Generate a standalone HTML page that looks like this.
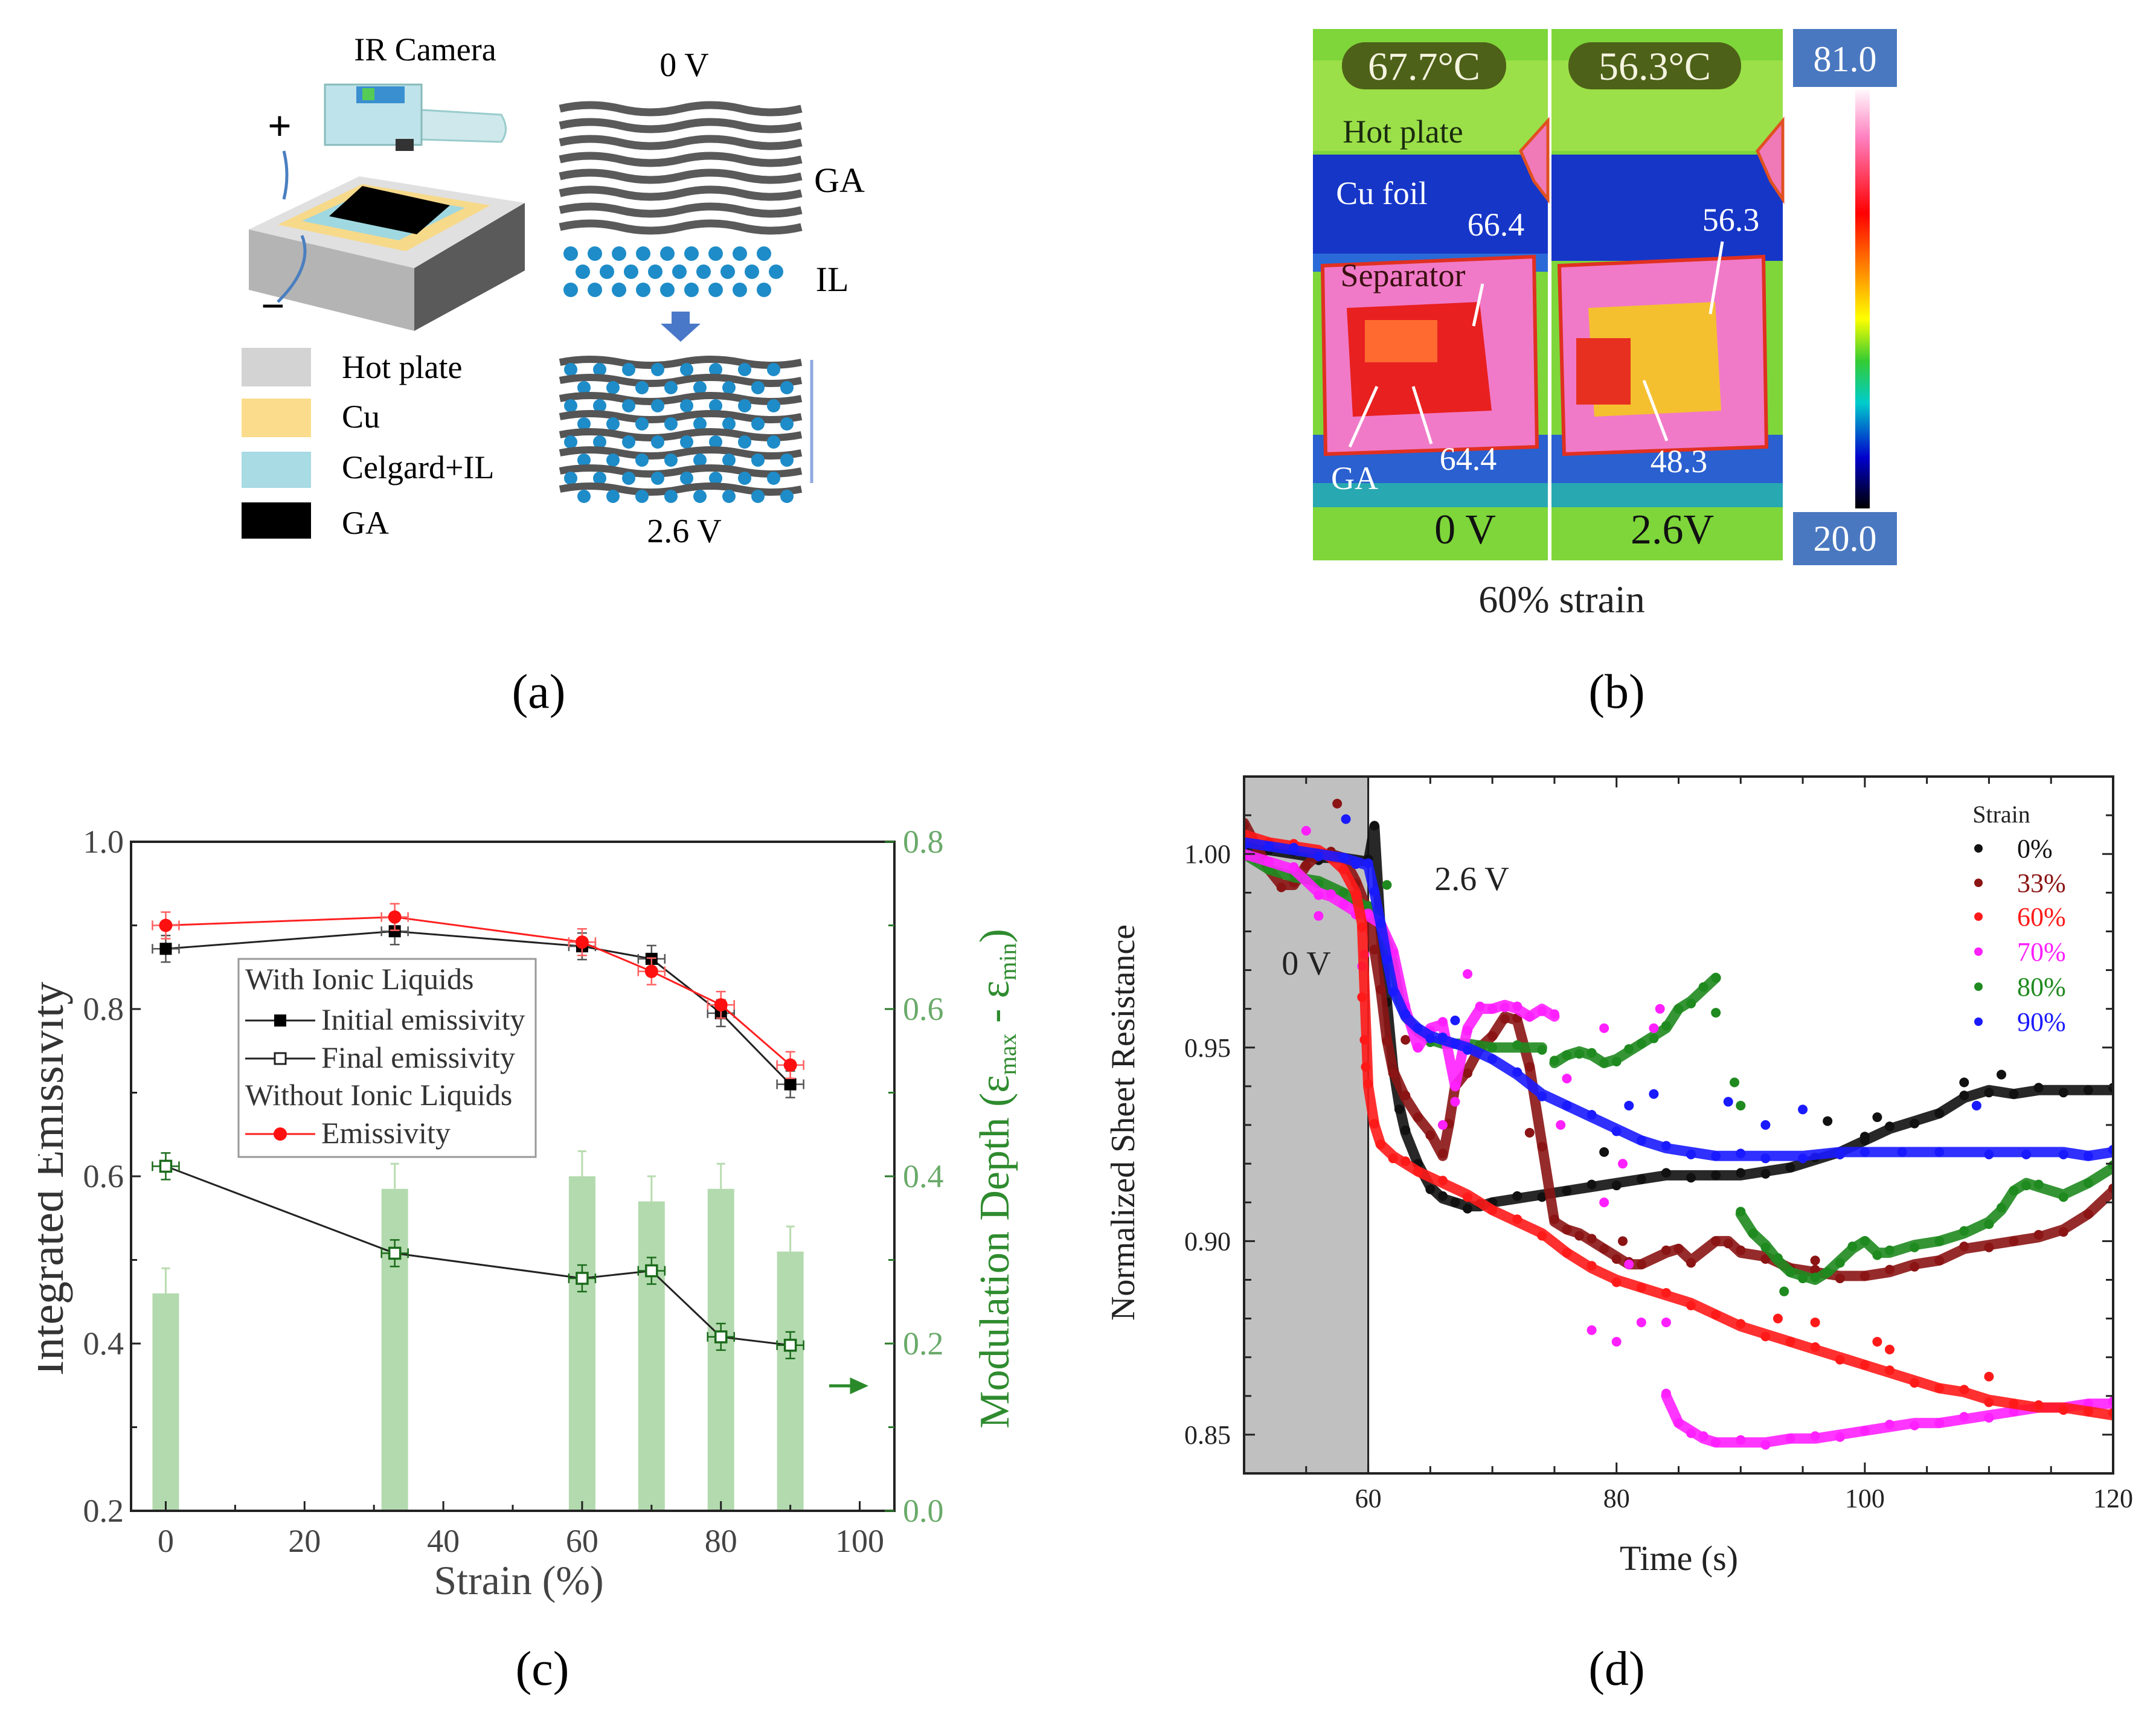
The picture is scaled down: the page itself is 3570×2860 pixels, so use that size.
<!DOCTYPE html>
<html><head><meta charset="utf-8">
<style>
html,body{margin:0;padding:0;background:#fff;}
svg{display:block;}
text{font-family:"Liberation Serif",serif;}
</style></head>
<body>
<svg id="fig" width="3570" height="2860" viewBox="0 0 3570 2860" xmlns="http://www.w3.org/2000/svg">
<defs>
<linearGradient id="cbar" x1="0" y1="0" x2="0" y2="1">
<stop offset="0" stop-color="#ffffff"/><stop offset="0.12" stop-color="#ff80c0"/><stop offset="0.3" stop-color="#ff0000"/><stop offset="0.45" stop-color="#ff9900"/><stop offset="0.55" stop-color="#ffff00"/><stop offset="0.65" stop-color="#33cc33"/><stop offset="0.75" stop-color="#00cccc"/><stop offset="0.88" stop-color="#0000cc"/><stop offset="1" stop-color="#000000"/>
</linearGradient>
<clipPath id="clipYL"><rect x="63" y="1300" width="200" height="1300"/></clipPath>
<clipPath id="clipD"><rect x="2060" y="1286" width="1439" height="1154"/></clipPath>
</defs>

<!-- ===== Panel (a) ===== -->
<g>
  <text x="704" y="100" font-size="54" text-anchor="middle">IR Camera</text>
  <g>
    <path d="M665 180 L830 190 Q845 215 830 235 L665 230 Z" fill="#cfe8ec" stroke="#9cc" stroke-width="3"/>
    <rect x="538" y="140" width="160" height="100" fill="#bfe3ea" stroke="#8bb" stroke-width="3"/>
    <rect x="590" y="143" width="80" height="28" fill="#3a8fd0"/>
    <rect x="600" y="146" width="20" height="20" fill="#5c5"/>
    <rect x="655" y="230" width="30" height="20" fill="#333"/>
  </g>
  <text x="463" y="232" font-size="70" font-family="Liberation Sans" font-weight="bold" text-anchor="middle">+</text>
  <text x="452" y="530" font-size="70" font-family="Liberation Sans" font-weight="bold" text-anchor="middle">−</text>
  <g>
    <polygon points="412,380 595,292 869,336 686,444" fill="#e0e0e0"/>
    <polygon points="412,380 686,444 686,548 412,480" fill="#b4b4b4"/>
    <polygon points="686,444 869,336 869,448 686,548" fill="#5a5a5a"/>
    <polygon points="460,372 600,305 812,340 672,416" fill="#f7d98a"/>
    <polygon points="500,366 610,316 770,344 660,398" fill="#9fd8e0"/>
    <polygon points="545,358 600,308 745,340 690,388" fill="#000"/>
    <path d="M470 330 Q480 290 470 250" stroke="#4a7fc0" stroke-width="5" fill="none"/>
    <path d="M500 390 Q520 440 460 500" stroke="#4a7fc0" stroke-width="5" fill="none"/>
  </g>
  <g>
    <rect x="400" y="576" width="115" height="64" fill="#d3d3d3"/>
    <rect x="400" y="660" width="115" height="64" fill="#fbdc8c"/>
    <rect x="400" y="748" width="115" height="60" fill="#a8dbe4"/>
    <rect x="400" y="832" width="115" height="60" fill="#000"/>
    <text x="566" y="626" font-size="54">Hot plate</text>
    <text x="566" y="708" font-size="54">Cu</text>
    <text x="566" y="792" font-size="54">Celgard+IL</text>
    <text x="566" y="884" font-size="54">GA</text>
  </g>
  <text x="1133" y="126" font-size="56" text-anchor="middle">0 V</text>
  <g id="gaLayers"></g>
  <text x="1390" y="318" font-size="58" text-anchor="middle">GA</text>
  <g id="ilDots"></g>
  <text x="1378" y="482" font-size="58" text-anchor="middle">IL</text>
  <polygon points="1112,516 1142,516 1142,536 1160,536 1127,566 1094,536 1112,536" fill="#4a78c8"/>
  <g id="mixLayers"></g>
  <line x1="1344" y1="596" x2="1344" y2="800" stroke="#8fa8e0" stroke-width="5"/>
  <text x="1133" y="898" font-size="56" text-anchor="middle">2.6 V</text>
  <text x="892" y="1172" font-size="80" text-anchor="middle">(a)</text>
</g>

<!-- ===== Panel (b) ===== -->
<g>
  <g>
    <rect x="2174" y="48" width="389" height="880" fill="#7ed63a"/>
    <rect x="2174" y="100" width="389" height="150" fill="#9be048"/>
    <rect x="2174" y="256" width="389" height="176" fill="#1636c8"/>
    <rect x="2174" y="420" width="389" height="30" fill="#2a6ad8"/>
    <rect x="2174" y="720" width="389" height="120" fill="#2a60d0"/>
    <rect x="2174" y="800" width="389" height="40" fill="#28a8b0"/>
    <polygon points="2518,250 2563,200 2563,330 2540,300" fill="#f07ab8" stroke="#e05020" stroke-width="5"/>
    <polygon points="2190,440 2540,425 2545,740 2195,752" fill="#f07ac8" stroke="#e03020" stroke-width="6"/>
    <polygon points="2230,510 2450,500 2470,680 2240,690" fill="#e82020"/>
    <rect x="2260" y="530" width="120" height="70" fill="#ff6a30"/>
    <rect x="2222" y="70" width="272" height="78" rx="38" fill="#4e6118"/>
  </g>
  <g>
    <rect x="2569" y="48" width="383" height="880" fill="#7ed63a"/>
    <rect x="2569" y="100" width="383" height="150" fill="#9be048"/>
    <rect x="2569" y="256" width="383" height="176" fill="#1636c8"/>
    <rect x="2569" y="720" width="383" height="120" fill="#2a60d0"/>
    <rect x="2569" y="800" width="383" height="40" fill="#28a8b0"/>
    <polygon points="2910,250 2952,200 2952,330 2932,300" fill="#f07ab8" stroke="#e05020" stroke-width="5"/>
    <polygon points="2582,440 2920,425 2925,740 2590,752" fill="#f07ac8" stroke="#e03020" stroke-width="6"/>
    <polygon points="2630,510 2840,500 2850,680 2640,690" fill="#f5c030"/>
    <rect x="2610" y="560" width="90" height="110" fill="#e83020"/>
    <rect x="2597" y="70" width="286" height="78" rx="38" fill="#4e6118"/>
  </g>
  <text x="2358" y="132" font-size="66" font-family="Liberation Sans" fill="#f4f4e0" text-anchor="middle">67.7°C</text>
  <text x="2740" y="132" font-size="66" font-family="Liberation Sans" fill="#f4f4e0" text-anchor="middle">56.3°C</text>
  <text x="2323" y="236" font-size="54" fill="#1a2a10" text-anchor="middle">Hot plate</text>
  <text x="2288" y="338" font-size="54" fill="#fff" text-anchor="middle">Cu foil</text>
  <text x="2477" y="390" font-size="54" fill="#fff" text-anchor="middle">66.4</text>
  <text x="2323" y="474" font-size="54" fill="#3a1010" text-anchor="middle">Separator</text>
  <text x="2243" y="810" font-size="54" fill="#fff" text-anchor="middle">GA</text>
  <text x="2431" y="778" font-size="54" fill="#fff" text-anchor="middle">64.4</text>
  <text x="2866" y="382" font-size="54" fill="#fff" text-anchor="middle">56.3</text>
  <text x="2780" y="782" font-size="54" fill="#fff" text-anchor="middle">48.3</text>
  <text x="2426" y="900" font-size="70" fill="#111" text-anchor="middle">0 V</text>
  <text x="2769" y="900" font-size="70" fill="#111" text-anchor="middle">2.6V</text>
  <g stroke="#fff" stroke-width="5" fill="none">
    <line x1="2455" y1="470" x2="2440" y2="540"/><line x1="2235" y1="740" x2="2280" y2="640"/>
    <line x1="2370" y1="735" x2="2340" y2="640"/><line x1="2852" y1="400" x2="2832" y2="520"/>
    <line x1="2760" y1="730" x2="2722" y2="630"/>
  </g>
  <g>
    <rect x="3072" y="144" width="24" height="698" fill="url(#cbar)"/>
    <rect x="2969" y="48" width="172" height="96" fill="#4a78c0"/>
    <rect x="2969" y="848" width="172" height="88" fill="#4a78c0"/>
    <text x="3055" y="118" font-size="60" fill="#fff" text-anchor="middle">81.0</text>
    <text x="3055" y="912" font-size="60" fill="#fff" text-anchor="middle">20.0</text>
  </g>
  <text x="2586" y="1014" font-size="64" fill="#222" text-anchor="middle">60% strain</text>
  <text x="2677" y="1172" font-size="80" text-anchor="middle">(b)</text>
</g>

<!-- ===== Panel (c) ===== -->
<g id="panelC"></g>
<!-- ===== Panel (d) ===== -->
<g id="panelD"></g>
<text x="898" y="2790" font-size="80" text-anchor="middle">(c)</text>
<text x="2677" y="2790" font-size="80" text-anchor="middle">(d)</text>
</svg>

<script>
// ---------- Panel (c) data ----------
const strainCats = [0, 33, 60, 70, 80, 90];
const initialEmis = [0.872, 0.893, 0.875, 0.860, 0.795, 0.710];
const finalEmis = [0.612, 0.508, 0.478, 0.487, 0.408, 0.398];
const noILEmis = [0.900, 0.910, 0.880, 0.845, 0.805, 0.733];
const modDepth = [0.26, 0.385, 0.40, 0.37, 0.385, 0.31];
const cXTicks = [0, 20, 40, 60, 80, 100];
const cYTicks = [0.2, 0.4, 0.6, 0.8, 1.0];
const cY2Ticks = [0.0, 0.2, 0.4, 0.6, 0.8];

// ---------- Panel (d) data ----------
const dXTicks = [60, 80, 100, 120];
const dYTicks = [0.85, 0.90, 0.95, 1.00];
const strainLabels = ['0%', '33%', '60%', '70%', '80%', '90%'];
const s0 = [[50,1.002],[52,1.001],[54,1.0],[56,0.999],[58,0.999],[60,0.998],[60.5,1.007],[61,0.98],[61.5,0.962],[62,0.945],[62.5,0.935],[63,0.928],[64,0.92],[65,0.914],[66,0.911],[67,0.91],[68,0.909],[69,0.909],[70,0.91],[72,0.911],[74,0.912],[76,0.913],[78,0.914],[80,0.915],[82,0.916],[84,0.917],[86,0.917],[88,0.917],[90,0.917],[92,0.918],[94,0.919],[96,0.921],[98,0.923],[100,0.926],[102,0.929],[104,0.931],[106,0.933],[108,0.937],[110,0.939],[112,0.938],[114,0.939],[116,0.939],[118,0.939],[120,0.939]];
const s0x = [[79,0.923],[97,0.931],[100,0.927],[101,0.932],[108,0.941],[111,0.943]];
const s33 = [[50,1.008],[51,1.002],[52,0.996],[53,0.992],[54,0.992],[55,0.997],[56,1.0],[57,1.0],[58,0.999],[59,0.993],[60,0.985],[60.5,0.975],[61,0.965],[61.5,0.952],[62,0.944],[63,0.937],[64,0.932],[65,0.928],[66,0.922],[66.5,0.93],[67,0.94],[68,0.944],[69,0.95],[70,0.953],[71,0.958],[72,0.957],[73,0.945],[74,0.925],[75,0.905],[76,0.903],[77,0.902],[78,0.9],[79,0.898],[80,0.896],[81,0.894],[82,0.894],[84,0.897],[85,0.898],[86,0.895],[88,0.9],[89,0.9],[90,0.897],[92,0.896],[94,0.893],[96,0.892],[98,0.891],[100,0.891],[102,0.892],[104,0.894],[106,0.895],[108,0.898],[110,0.899],[112,0.9],[114,0.901],[116,0.903],[118,0.907],[120,0.913]];
const s33x = [[57.5,1.013],[73,0.928],[80.5,0.9],[96,0.895],[63,0.952]];
const s60 = [[50,1.005],[52,1.003],[54,1.002],[56,1.001],[57,0.999],[58,0.996],[59,0.99],[59.5,0.982],[60,0.94],[60.5,0.93],[61,0.925],[62,0.922],[63,0.92],[64,0.918],[66,0.915],[68,0.912],[70,0.908],[72,0.905],[74,0.902],[76,0.897],[78,0.893],[80,0.89],[82,0.888],[84,0.886],[86,0.884],[88,0.881],[90,0.878],[92,0.876],[94,0.874],[96,0.872],[98,0.87],[100,0.868],[102,0.866],[104,0.864],[106,0.862],[108,0.861],[110,0.859],[112,0.858],[114,0.857],[116,0.857],[118,0.856],[120,0.855]];
const s60x = [[59.5,0.963],[59.7,0.952],[59.8,0.945],[93,0.88],[96,0.879],[101,0.874],[102,0.872],[110,0.865]];
const s70 = [[50,1.0],[52,0.998],[54,0.996],[56,0.99],[57,0.989],[58,0.987],[59,0.985],[60,0.984],[61,0.982],[62,0.975],[63,0.96],[64,0.95],[65,0.955],[66,0.956],[67,0.94],[68,0.955],[69,0.96],[70,0.96],[71,0.961],[72,0.96],[73,0.958],[74,0.96],[75,0.958]];
const s70b = [[84,0.86],[85,0.853],[86,0.851],[87,0.849],[88,0.848],[90,0.848],[92,0.848],[94,0.849],[96,0.849],[98,0.85],[100,0.851],[102,0.852],[104,0.853],[106,0.853],[108,0.854],[110,0.855],[112,0.856],[114,0.857],[116,0.857],[118,0.858],[120,0.858]];
const s70x = [[55,1.006],[56,0.984],[59.5,0.971],[59.7,0.974],[68,0.969],[76,0.942],[78,0.877],[79,0.91],[79,0.955],[80,0.874],[80.5,0.92],[81,0.894],[82,0.879],[83,0.955],[84,0.879],[83.5,0.96],[66,0.93],[67,0.936],[75.5,0.93]];
const s80 = [[50,1.0],[51,0.998],[52,0.996],[54,0.994],[56,0.993],[58,0.99],[59,0.988],[60,0.986],[61,0.982],[62,0.972],[62.5,0.963],[63,0.958],[64,0.954],[65,0.952],[66,0.951],[68,0.951],[70,0.95],[72,0.95],[74,0.95]];
const s80b = [[75,0.946],[76,0.948],[77,0.949],[78,0.948],[79,0.946],[80,0.947],[81,0.949],[82,0.951],[83,0.953],[84,0.955],[85,0.96],[86,0.962],[87,0.965],[88,0.968]];
const s80c = [[90,0.907],[91,0.902],[92,0.899],[93,0.895],[94,0.892],[95,0.891],[96,0.89],[97,0.892],[98,0.895],[99,0.898],[100,0.9],[101,0.897],[102,0.897],[104,0.899],[106,0.9],[108,0.902],[110,0.905],[111,0.908],[112,0.913],[113,0.915],[114,0.914],[116,0.912],[118,0.915],[120,0.919]];
const s80x = [[61.5,0.992],[88,0.959],[89.5,0.941],[90,0.935],[93.5,0.887]];
const s90 = [[50,1.003],[52,1.002],[54,1.001],[56,1.0],[58,0.999],[59,0.998],[60,0.997],[60.5,0.99],[61,0.982],[61.5,0.973],[62,0.965],[63,0.958],[64,0.955],[65,0.953],[66,0.952],[67,0.951],[68,0.95],[70,0.947],[72,0.943],[74,0.938],[76,0.935],[78,0.932],[80,0.929],[82,0.926],[84,0.924],[86,0.923],[88,0.922],[90,0.922],[92,0.922],[95,0.922],[98,0.923],[100,0.923],[103,0.923],[106,0.923],[110,0.923],[113,0.923],[116,0.923],[118,0.922],[120,0.923]];
const s90x = [[58.2,1.009],[81,0.935],[83,0.938],[89,0.936],[92,0.93],[95,0.934],[109,0.935],[67,0.957]];

const NS = 'http://www.w3.org/2000/svg';
function mk(parent, tag, attrs, txt) {
  const e = document.createElementNS(NS, tag);
  for (const k in attrs) e.setAttribute(k, attrs[k]);
  if (txt !== undefined) e.textContent = txt;
  parent.appendChild(e);
  return e;
}

// ---------- Panel (a) decorations (schematic, not data) ----------
(function () {
  const ga = document.getElementById('gaLayers');
  for (let i = 0; i < 8; i++) {
    const y = 180 + i * 28;
    const p = mk(ga, 'path', {d: `M927 ${y} q50 -12 100 0 t100 0 t100 0 t100 0`, stroke: '#5a5a5a', 'stroke-width': 13, fill: 'none'});
    
    
  }
  const il = document.getElementById('ilDots');
  for (let r = 0; r < 3; r++) {
    for (let c = 0; c < 9; c++) {
      const d = mk(il, 'circle', {cx: 945 + c * 40 + (r % 2) * 20, cy: 420 + r * 30, r: 12, fill: '#1e8cc8'});
      
      
    }
  }
  const mx = document.getElementById('mixLayers');
  for (let i = 0; i < 8; i++) {
    const y = 600 + i * 30;
    const p = mk(mx, 'path', {d: `M927 ${y} q50 -10 100 0 t100 0 t100 0 t100 0`, stroke: '#555', 'stroke-width': 12, fill: 'none'});
    
    
    for (let c = 0; c < 8; c++) {
      const d = mk(mx, 'circle', {cx: 945 + c * 48 + (i % 2) * 22, cy: y + 12, r: 11, fill: '#1e8cc8'});
      
      
    }
  }
})();

// ---------- Panel (c) ----------
(function () {
  const g = document.getElementById('panelC');
  const L = 217, R = 1481, T = 1394, B = 2502;
  const xS = v => L + (v - (-5)) / (110) * (R - L);
  const yS = v => B - (v - 0.2) / 0.8 * (B - T);
  const y2S = v => B - v / 0.8 * (B - T);
  strainCats.forEach((s, i) => {
    const w = 44;
    const b = mk(g, 'rect', {x: xS(s) - w / 2, y: y2S(modDepth[i]), width: w, height: B - y2S(modDepth[i]), fill: '#a6d4a0', opacity: 0.85});
    
    
    const eb = mk(g, 'path', {d: `M${xS(s)} ${y2S(modDepth[i])} V${y2S(modDepth[i] + 0.03)} M${xS(s) - 7} ${y2S(modDepth[i] + 0.03)} H${xS(s) + 7}`, stroke: '#b8dcb0', 'stroke-width': 3, fill: 'none'});
    
    
  });
  function series(vals, color, name, marker, mcolor) {
    const pts = strainCats.map((s, i) => xS(s) + ',' + yS(vals[i])).join(' ');
    const l = mk(g, 'polyline', {points: pts, fill: 'none', stroke: color, 'stroke-width': 3});
    
    
    strainCats.forEach((s, i) => {
      const x = xS(s), y = yS(vals[i]);
      const e = mk(g, 'path', {d: `M${x} ${y - 22} V${y + 22} M${x - 8} ${y - 22} H${x + 8} M${x - 8} ${y + 22} H${x + 8} M${x - 22} ${y} H${x + 22} M${x - 22} ${y - 8} V${y + 8} M${x + 22} ${y - 8} V${y + 8}`, stroke: mcolor, 'stroke-width': 2.5, fill: 'none'});
      
      
      let m;
      if (marker === 'square') m = mk(g, 'rect', {x: x - 10, y: y - 10, width: 20, height: 20, fill: '#000'});
      else if (marker === 'open') m = mk(g, 'rect', {x: x - 9, y: y - 9, width: 18, height: 18, fill: '#fff', stroke: mcolor, 'stroke-width': 3.5});
      else m = mk(g, 'circle', {cx: x, cy: y, r: 11, fill: '#ff1010'});
      
      
    });
  }
  series(finalEmis, '#222', 'final-emissivity', 'open', '#1a6a1a');
  series(initialEmis, '#222', 'initial-emissivity', 'square', '#555');
  series(noILEmis, '#ff2020', 'emissivity-no-il', 'circle', '#ff6060');
  const fr = mk(g, 'rect', {x: L, y: T, width: R - L, height: B - T, fill: 'none', stroke: '#222', 'stroke-width': 4});
  
  
  for (let v = 0; v <= 100; v += 10) {
    const t = mk(g, 'line', {x1: xS(v), x2: xS(v), y1: B, y2: B - (v % 20 ? 10 : 16), stroke: '#222', 'stroke-width': 3});
    
    
  }
  cXTicks.forEach(v => {
    const t = mk(g, 'text', {x: xS(v), y: B + 68, 'font-size': 54, 'text-anchor': 'middle', fill: '#444'}, String(v));
    
    
  });
  for (let k = 2; k <= 10; k++) {
    const v = k / 10;
    const t = mk(g, 'line', {x1: L, x2: L + (k % 2 ? 10 : 16), y1: yS(v), y2: yS(v), stroke: '#222', 'stroke-width': 3});
    
    
    const t2 = mk(g, 'line', {x1: R, x2: R - (k % 2 ? 10 : 16), y1: yS(v), y2: yS(v), stroke: '#2a7a2a', 'stroke-width': 3});
    
    
  }
  cYTicks.forEach(v => {
    const t = mk(g, 'text', {x: L - 12, y: yS(v) + 18, 'font-size': 54, 'text-anchor': 'end', fill: '#444'}, v.toFixed(1));
    
    
  });
  cY2Ticks.forEach(v => {
    const t = mk(g, 'text', {x: R + 14, y: y2S(v) + 18, 'font-size': 54, 'text-anchor': 'start', fill: '#6aaa6a'}, v.toFixed(1));
    
    
  });
  const xl = mk(g, 'text', {x: (xS(0) + xS(100)) / 2 + 10, y: 2640, 'font-size': 68, 'text-anchor': 'middle', fill: '#444'}, 'Strain (%)');
  
  
  const ylg = mk(g, 'g', {'clip-path': 'url(#clipYL)'});
  
  
  const yl = mk(ylg, 'text', {x: 0, y: 0, 'font-size': 76, 'text-anchor': 'middle', fill: '#333', transform: `translate(104,1952) rotate(-90)`}, 'Integrated Emissivity');
  
  
  const yl2 = mk(g, 'text', {x: 0, y: 0, 'font-size': 70, 'text-anchor': 'middle', fill: '#2e8b2e', transform: `translate(1670,1952) rotate(-90)`}, 'Modulation Depth (ε');
  
  
  mk(yl2, 'tspan', {'font-size': 40, dy: 12}, 'max');
  mk(yl2, 'tspan', {dy: -12}, ' - ε');
  mk(yl2, 'tspan', {'font-size': 40, dy: 12}, 'min');
  mk(yl2, 'tspan', {dy: -12}, ')');
  const ar = mk(g, 'path', {d: 'M1373 2295 H1425 M1410 2285 L1432 2295 L1410 2305 Z', stroke: '#2a8a2a', 'stroke-width': 5, fill: '#2a8a2a'});
  
  
  const lg = mk(g, 'g', {});
  
  
  mk(lg, 'rect', {x: 395, y: 1588, width: 492, height: 328, fill: '#fff', stroke: '#999', 'stroke-width': 3});
  const rows = [[1638, 'With Ionic Liquids', null], [1705, 'Initial emissivity', 'square'], [1768, 'Final emissivity', 'open'], [1830, 'Without Ionic Liquids', null], [1893, 'Emissivity', 'circle']];
  rows.forEach(r => {
    const tx = mk(lg, 'text', {x: r[2] ? 532 : 406, y: r[0], 'font-size': 50, fill: '#333'}, r[1]);
    
    
    if (r[2]) {
      const cy = r[0] - 15;
      const col = r[2] === 'circle' ? '#ff2020' : '#222';
      mk(lg, 'line', {x1: 406, x2: 522, y1: cy, y2: cy, stroke: col, 'stroke-width': 3});
      if (r[2] === 'square') mk(lg, 'rect', {x: 454, y: cy - 10, width: 20, height: 20, fill: '#000'});
      else if (r[2] === 'open') mk(lg, 'rect', {x: 455, y: cy - 9, width: 18, height: 18, fill: '#fff', stroke: '#222', 'stroke-width': 3});
      else mk(lg, 'circle', {cx: 464, cy: cy, r: 11, fill: '#ff1010'});
    }
  });
})();

// ---------- Panel (d) ----------
(function () {
  const g = document.getElementById('panelD');
  const L = 2060, R = 3499, T = 1286, B = 2440;
  const xS = v => L + (v - 50) / 70 * (R - L);
  const yS = v => B - (v - 0.84) / 0.18 * (B - T);
  const sh = mk(g, 'rect', {x: xS(50), y: T, width: xS(60) - xS(50), height: B - T, fill: '#c0c0c0'});
  
  
  const vl = mk(g, 'line', {x1: xS(60), x2: xS(60), y1: T, y2: B, stroke: '#222', 'stroke-width': 3});
  
  
  const clip = mk(g, 'g', {'clip-path': 'url(#clipD)'});
  
  
  const colors = ['#111111', '#8b1414', '#ff1a1a', '#ff20ff', '#1f8a1f', '#1a1aff'];
  const groups = [[s0], [s33], [s60], [s70, s70b], [s80, s80b, s80c], [s90]];
  const extras = [s0x, s33x, s60x, s70x, s80x, s90x];
  const order = [0, 1, 4, 3, 2, 5];
  order.forEach(i => {
    const sg = mk(clip, 'g', {});
    
    
    groups[i].forEach(seg => {
      const pl = mk(sg, 'polyline', {points: seg.map(p => xS(p[0]) + ',' + yS(p[1])).join(' '), fill: 'none', stroke: colors[i], 'stroke-width': 17, 'stroke-linejoin': 'round', 'stroke-linecap': 'round', opacity: 0.9});
      
      
      seg.forEach(p => {
        const c = mk(sg, 'circle', {cx: xS(p[0]), cy: yS(p[1]) + ((p[0] * 7) % 3 - 1) * 4, r: 8, fill: colors[i]});
        
        
      });
    });
    extras[i].forEach(p => {
      const c = mk(sg, 'circle', {cx: xS(p[0]), cy: yS(p[1]), r: 8, fill: colors[i]});
      
      
    });
  });
  const fr = mk(g, 'rect', {x: L, y: T, width: R - L, height: B - T, fill: 'none', stroke: '#222', 'stroke-width': 4});
  
  
  for (let v = 55; v < 120; v += 5) {
    const len = v % 20 === 0 ? 18 : 12;
    const t1 = mk(g, 'line', {x1: xS(v), x2: xS(v), y1: B, y2: B - len, stroke: '#222', 'stroke-width': 3});
    
    
    const t2 = mk(g, 'line', {x1: xS(v), x2: xS(v), y1: T, y2: T + len, stroke: '#222', 'stroke-width': 3});
    
    
  }
  for (let k = 85; k <= 101; k++) {
    const v = k / 100;
    const len = k % 5 === 0 ? 18 : 12;
    const t1 = mk(g, 'line', {x1: L, x2: L + len, y1: yS(v), y2: yS(v), stroke: '#222', 'stroke-width': 3});
    
    
    const t2 = mk(g, 'line', {x1: R, x2: R - len, y1: yS(v), y2: yS(v), stroke: '#222', 'stroke-width': 3});
    
    
  }
  dXTicks.forEach(v => {
    const t = mk(g, 'text', {x: xS(v), y: B + 56, 'font-size': 44, 'text-anchor': 'middle', fill: '#222'}, String(v));
    
    
  });
  dYTicks.forEach(v => {
    const t = mk(g, 'text', {x: L - 22, y: yS(v) + 15, 'font-size': 44, 'text-anchor': 'end', fill: '#222'}, v.toFixed(2));
    
    
  });
  const xl = mk(g, 'text', {x: 2780, y: 2600, 'font-size': 58, 'text-anchor': 'middle', fill: '#222'}, 'Time (s)');
  
  
  const yl = mk(g, 'text', {x: 0, y: 0, 'font-size': 56, 'text-anchor': 'middle', fill: '#222', transform: 'translate(1878,1859) rotate(-90)'}, 'Normalized Sheet Resistance');
  
  
  const a0 = mk(g, 'text', {x: 2163, y: 1614, 'font-size': 56, 'text-anchor': 'middle', fill: '#222'}, '0 V');
  
  
  const a1 = mk(g, 'text', {x: 2437, y: 1474, 'font-size': 56, 'text-anchor': 'middle', fill: '#222'}, '2.6 V');
  
  
  const lt = mk(g, 'text', {x: 3314, y: 1362, 'font-size': 40, 'text-anchor': 'middle', fill: '#222'}, 'Strain');
  
  
  const ly = [1405, 1462, 1518, 1576, 1634, 1692];
  strainLabels.forEach((lab, i) => {
    const d = mk(g, 'circle', {cx: 3276, cy: ly[i], r: 7, fill: colors[i]});
    
    
    const t = mk(g, 'text', {x: 3340, y: ly[i] + 15, 'font-size': 44, fill: colors[i]}, lab);
    
    
  });
})();
</script>
</body></html>
